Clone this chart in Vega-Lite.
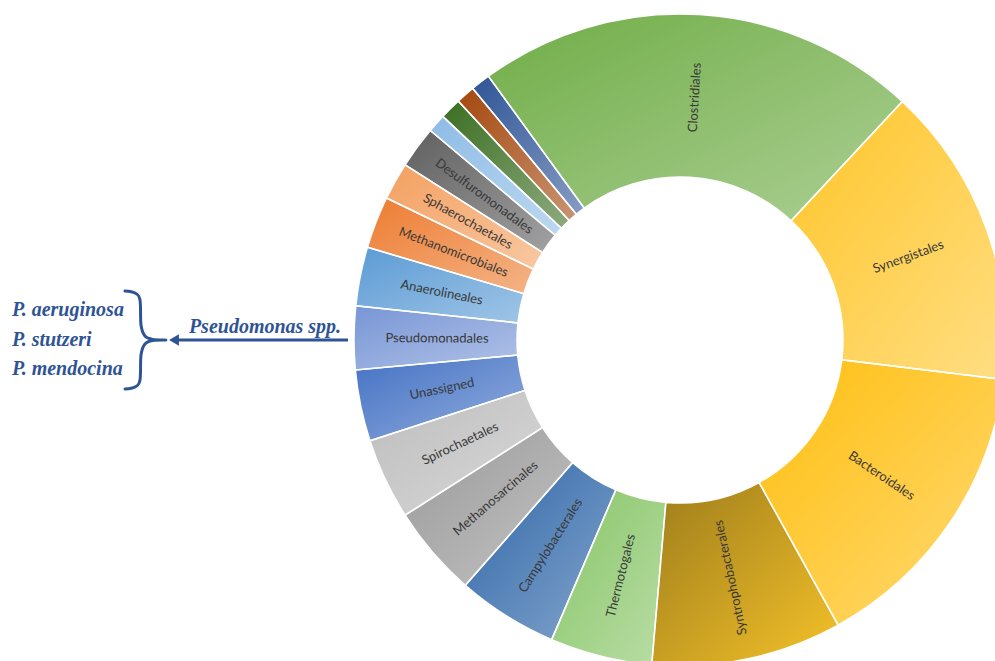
{
  "$schema": "https://vega.github.io/schema/vega-lite/v6.json",
  "width": 995,
  "height": 661,
  "autosize": {"type": "none"},
  "padding": 0,
  "background": "white",
  "config": {"view": {"stroke": null}},
  "datasets": {
    "orders": [
      {"name": "Clostridiales", "label": "Clostridiales", "value": 21.94, "order": 1},
      {"name": "Synergistales", "label": "Synergistales", "value": 15.0, "order": 2},
      {"name": "Bacteroidales", "label": "Bacteroidales", "value": 15.0, "order": 3},
      {"name": "Syntrophobacterales", "label": "Syntrophobacterales", "value": 9.44, "order": 4},
      {"name": "Thermotogales", "label": "Thermotogales", "value": 5.06, "order": 5},
      {"name": "Campylobacterales", "label": "Campylobacterales", "value": 5.0, "order": 6},
      {"name": "Methanosarcinales", "label": "Methanosarcinales", "value": 4.53, "order": 7},
      {"name": "Spirochaetales", "label": "Spirochaetales", "value": 4.03, "order": 8},
      {"name": "Unassigned", "label": "Unassigned", "value": 3.53, "order": 9},
      {"name": "Pseudomonadales", "label": "Pseudomonadales", "value": 3.14, "order": 10},
      {"name": "Anaerolineales", "label": "Anaerolineales", "value": 2.92, "order": 11},
      {"name": "Methanomicrobiales", "label": "Methanomicrobiales", "value": 2.58, "order": 12},
      {"name": "Sphaerochaetales", "label": "Sphaerochaetales", "value": 1.86, "order": 13},
      {"name": "Desulfuromonadales", "label": "Desulfuromonadales", "value": 2.08, "order": 14},
      {"name": "Other order A", "label": "", "value": 0.92, "order": 15},
      {"name": "Other order B", "label": "", "value": 1.06, "order": 16},
      {"name": "Other order C", "label": "", "value": 0.94, "order": 17},
      {"name": "Other order D", "label": "", "value": 0.97, "order": 18}
    ],
    "species": [
      {"t": "P. aeruginosa", "x": 12, "y": 310},
      {"t": "P. stutzeri", "x": 12, "y": 340},
      {"t": "P. mendocina", "x": 12, "y": 369}
    ],
    "genus": [
      {"t": "Pseudomonas spp.", "x": 265, "y": 327}
    ],
    "brace": [
      {"i": 1, "x": 125, "y": 291},
      {"i": 2, "x": 135, "y": 293},
      {"i": 3, "x": 140, "y": 300},
      {"i": 4, "x": 141, "y": 325},
      {"i": 5, "x": 145, "y": 336},
      {"i": 6, "x": 153, "y": 339.5},
      {"i": 7, "x": 166, "y": 340},
      {"i": 8, "x": 153, "y": 340.5},
      {"i": 9, "x": 145, "y": 344},
      {"i": 10, "x": 141, "y": 355},
      {"i": 11, "x": 140, "y": 380},
      {"i": 12, "x": 135, "y": 387},
      {"i": 13, "x": 125, "y": 389}
    ],
    "arrow": [
      {"x": 178, "x2": 348, "y": 340}
    ],
    "arrowhead": [
      {"x": 174, "y": 340}
    ]
  },
  "layer": [
    {
      "data": {"name": "orders"},
      "transform": [
        {"stack": "value", "groupby": [], "sort": [{"field": "order", "order": "ascending"}], "as": ["v0", "v1"]},
        {"calculate": "(datum.v0 + datum.v1) / 2", "as": "mid"},
        {"calculate": "(324 + 3.6 * datum.mid) % 360", "as": "deg"},
        {"calculate": "datum.deg < 150 ? datum.deg - 90 : datum.deg - 270", "as": "ang"}
      ],
      "layer": [
        {
          "mark": {"type": "arc", "radius": 326, "radius2": 163, "strokeWidth": 0},
          "encoding": {
            "x": {"datum": 680, "type": "quantitative", "scale": {"domain": [0, 995], "nice": false, "zero": false}, "axis": null},
            "y": {"datum": 340, "type": "quantitative", "scale": {"domain": [0, 661], "reverse": true, "nice": false, "zero": false}, "axis": null},
            "theta": {"field": "v0", "type": "quantitative", "scale": {"domain": [0, 100], "range": [5.6549, 11.9381]}},
            "theta2": {"field": "v1"},
            "color": {
              "field": "name",
              "type": "nominal",
              "legend": null,
              "scale": {
                "domain": ["Clostridiales", "Synergistales", "Bacteroidales", "Syntrophobacterales", "Thermotogales", "Campylobacterales", "Methanosarcinales", "Spirochaetales", "Unassigned", "Pseudomonadales", "Anaerolineales", "Methanomicrobiales", "Sphaerochaetales", "Desulfuromonadales", "Other order A", "Other order B", "Other order C", "Other order D"],
                "range": ["#70AD47", "#FFC629", "#FFBF10", "#F5C22A", "#87C566", "#2E66A8", "#999999", "#BDBDBD", "#4472C4", "#7896D6", "#5B9BD5", "#ED7D31", "#F4A060", "#5F5F5F", "#8DBCE6", "#3B6E22", "#A4480E", "#2F5597"]
              }
            }
          }
        },
        {
          "transform": [{"filter": "datum.name != 'Syntrophobacterales'"}],
          "mark": {
            "type": "arc",
            "radius": 326,
            "radius2": 163,
            "stroke": "white",
            "strokeWidth": 1.5,
            "fill": {
              "gradient": "linear",
              "x1": 0, "y1": 0, "x2": 1, "y2": 1,
              "stops": [
                {"offset": 0, "color": "rgba(255,255,255,0)"},
                {"offset": 1, "color": "rgba(255,255,255,0.42)"}
              ]
            }
          },
          "encoding": {
            "x": {"datum": 680, "type": "quantitative", "scale": {"domain": [0, 995], "nice": false, "zero": false}, "axis": null},
            "y": {"datum": 340, "type": "quantitative", "scale": {"domain": [0, 661], "reverse": true, "nice": false, "zero": false}, "axis": null},
            "theta": {"field": "v0", "type": "quantitative", "scale": {"domain": [0, 100], "range": [5.6549, 11.9381]}},
            "theta2": {"field": "v1"}
          }
        },
        {
          "transform": [{"filter": "datum.name == 'Syntrophobacterales'"}],
          "mark": {
            "type": "arc",
            "radius": 326,
            "radius2": 163,
            "stroke": "white",
            "strokeWidth": 1.5,
            "fill": {
              "gradient": "linear",
              "x1": 0, "y1": 0, "x2": 1, "y2": 1,
              "stops": [
                {"offset": 0, "color": "rgba(0,0,0,0.36)"},
                {"offset": 1, "color": "rgba(0,0,0,0)"}
              ]
            }
          },
          "encoding": {
            "x": {"datum": 680, "type": "quantitative", "scale": {"domain": [0, 995], "nice": false, "zero": false}, "axis": null},
            "y": {"datum": 340, "type": "quantitative", "scale": {"domain": [0, 661], "reverse": true, "nice": false, "zero": false}, "axis": null},
            "theta": {"field": "v0", "type": "quantitative", "scale": {"domain": [0, 100], "range": [5.6549, 11.9381]}},
            "theta2": {"field": "v1"}
          }
        },
        {
          "transform": [{"filter": "datum.label != ''"}],
          "mark": {"type": "text", "radius": 243, "font": "Lato", "fontSize": 13, "color": "#383838", "align": "center", "baseline": "middle"},
          "encoding": {
            "x": {"datum": 680, "type": "quantitative", "scale": {"domain": [0, 995], "nice": false, "zero": false}, "axis": null},
            "y": {"datum": 340, "type": "quantitative", "scale": {"domain": [0, 661], "reverse": true, "nice": false, "zero": false}, "axis": null},
            "theta": {"field": "mid", "type": "quantitative", "stack": null, "scale": {"domain": [0, 100], "range": [5.6549, 11.9381]}},
            "angle": {"field": "ang", "type": "quantitative", "scale": null},
            "text": {"field": "label"}
          }
        }
      ]
    },
    {
      "data": {"name": "species"},
      "mark": {"type": "text", "font": "Liberation Serif", "fontStyle": "italic", "fontWeight": "bold", "fontSize": 20, "color": "#2F5496", "align": "left", "baseline": "middle"},
      "encoding": {
        "x": {"field": "x", "type": "quantitative", "scale": {"domain": [0, 995], "nice": false, "zero": false}, "axis": null},
        "y": {"field": "y", "type": "quantitative", "scale": {"domain": [0, 661], "reverse": true, "nice": false, "zero": false}, "axis": null},
        "text": {"field": "t"}
      }
    },
    {
      "data": {"name": "genus"},
      "mark": {"type": "text", "font": "Liberation Serif", "fontStyle": "italic", "fontWeight": "bold", "fontSize": 20, "color": "#2F5496", "align": "center", "baseline": "middle"},
      "encoding": {
        "x": {"field": "x", "type": "quantitative", "scale": {"domain": [0, 995], "nice": false, "zero": false}, "axis": null},
        "y": {"field": "y", "type": "quantitative", "scale": {"domain": [0, 661], "reverse": true, "nice": false, "zero": false}, "axis": null},
        "text": {"field": "t"}
      }
    },
    {
      "data": {"name": "brace"},
      "mark": {"type": "line", "interpolate": "cardinal", "color": "#2F5496", "strokeWidth": 3, "strokeCap": "round"},
      "encoding": {
        "x": {"field": "x", "type": "quantitative", "scale": {"domain": [0, 995], "nice": false, "zero": false}, "axis": null},
        "y": {"field": "y", "type": "quantitative", "scale": {"domain": [0, 661], "reverse": true, "nice": false, "zero": false}, "axis": null},
        "order": {"field": "i", "type": "quantitative"}
      }
    },
    {
      "data": {"name": "arrow"},
      "mark": {"type": "rule", "color": "#2F5496", "strokeWidth": 3},
      "encoding": {
        "x": {"field": "x", "type": "quantitative", "scale": {"domain": [0, 995], "nice": false, "zero": false}, "axis": null},
        "x2": {"field": "x2"},
        "y": {"field": "y", "type": "quantitative", "scale": {"domain": [0, 661], "reverse": true, "nice": false, "zero": false}, "axis": null}
      }
    },
    {
      "data": {"name": "arrowhead"},
      "mark": {"type": "point", "shape": "triangle-left", "filled": true, "size": 130, "color": "#2F5496", "opacity": 1},
      "encoding": {
        "x": {"field": "x", "type": "quantitative", "scale": {"domain": [0, 995], "nice": false, "zero": false}, "axis": null},
        "y": {"field": "y", "type": "quantitative", "scale": {"domain": [0, 661], "reverse": true, "nice": false, "zero": false}, "axis": null}
      }
    }
  ]
}
